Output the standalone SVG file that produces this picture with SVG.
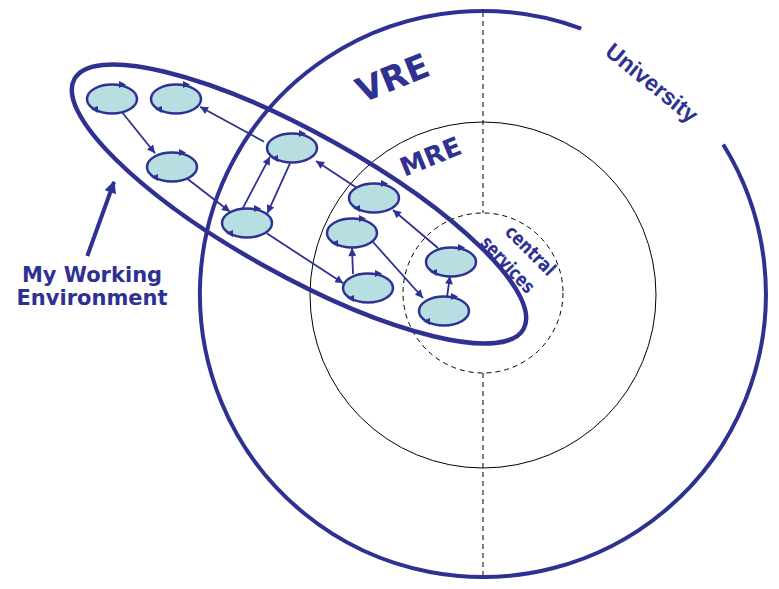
<svg xmlns="http://www.w3.org/2000/svg" xmlns:xlink="http://www.w3.org/1999/xlink" width="779" height="589" viewBox="0 0 779 589">
<style>
.blue{stroke:#2e3192;fill:none}
.thin{stroke:#000;fill:none;stroke-width:1}
.dash{stroke:#000;fill:none;stroke-width:1;stroke-dasharray:5 4}
.conn{stroke:#2e3192;stroke-width:1.8;fill:none;marker-end:url(#ah)}
.lbl{fill:#2e3192;font-family:"DejaVu Sans",Verdana,sans-serif;font-weight:bold;text-anchor:middle}
.nodeE{fill:#b7dfe2;stroke:#2e3192;stroke-width:2.5}
.tip{fill:#2e3192}
</style>
<defs>
<marker id="ah" viewBox="0 0 10 10" refX="10" refY="5" markerWidth="10" markerHeight="8" markerUnits="userSpaceOnUse" orient="auto">
<path d="M0,0 L10,5 L0,10 z" fill="#2e3192"/>
</marker>
<marker id="bigah" viewBox="0 0 10 10" refX="9" refY="5" markerWidth="14" markerHeight="12" markerUnits="userSpaceOnUse" orient="auto">
<path d="M0,0 L10,5 L0,10 z" fill="#2e3192"/>
</marker>
<g id="node">
<ellipse class="nodeE" cx="0" cy="0" rx="25" ry="14.5"/>
<polygon class="tip" points="7,-18 14,-14.5 7,-11"/>
<polygon class="tip" points="-14,7 -21,10 -14,14"/>
</g>
</defs>
<rect width="779" height="589" fill="#fff"/>
<g id="circles">
<line class="dash" x1="483" y1="12" x2="483" y2="213"/>
<line class="dash" x1="483" y1="373" x2="483" y2="577"/>
<path class="blue" stroke-width="4" d="M723.2,144.5 A283,283 0 1 1 581.2,28.6"/>
<circle class="thin" cx="483" cy="295" r="173"/>
<circle class="dash" cx="483" cy="293" r="80"/>
</g>
<g id="mwe">
<ellipse class="blue" stroke-width="4.5" cx="299" cy="204" rx="257" ry="71" transform="rotate(29.1 299 204)"/>
</g>
<g id="connectors">
<path class="conn" d="M121.7,111.7 L155,153.3"/>
<path class="conn" d="M264,141.7 L200,106.7"/>
<path class="conn" d="M186.7,178.3 L230,211.7"/>
<path class="conn" d="M242.7,208.3 L270,156.7"/>
<path class="conn" d="M290,163.3 L267.3,213.3"/>
<path class="conn" d="M266.7,233.3 L343.3,283.3"/>
<path class="conn" d="M357,188 L316,161"/>
<path class="conn" d="M353,274 L352,248"/>
<path class="conn" d="M373,242 L423,298"/>
<path class="conn" d="M438,248 L393,210"/>
<path class="conn" d="M447,297 L450,276"/>
<path stroke="#2e3192" stroke-width="4" fill="none" marker-end="url(#bigah)" d="M87.3,256 L114,182"/>
</g>
<g id="n1"><use xlink:href="#node" x="112" y="99"/></g>
<g id="n2"><use xlink:href="#node" x="176" y="99"/></g>
<g id="n3"><use xlink:href="#node" x="172" y="167"/></g>
<g id="n4"><use xlink:href="#node" x="292" y="148"/></g>
<g id="n5"><use xlink:href="#node" x="247" y="223"/></g>
<g id="n6"><use xlink:href="#node" x="374" y="198"/></g>
<g id="n7"><use xlink:href="#node" x="352" y="233"/></g>
<g id="n8"><use xlink:href="#node" x="368" y="288"/></g>
<g id="n9"><use xlink:href="#node" x="451" y="262"/></g>
<g id="n10"><use xlink:href="#node" x="444" y="311"/></g>
<g id="labels">
<text class="lbl" font-size="34" transform="translate(397,89) rotate(-22)">VRE</text>
<text class="lbl" font-size="26" transform="translate(434,165) rotate(-22)">MRE</text>
<text class="lbl" style="font-family:'Liberation Sans',Arial,sans-serif" font-size="23" transform="translate(647,89) rotate(39)">University</text>
<text class="lbl" font-size="19" textLength="62" lengthAdjust="spacingAndGlyphs" transform="translate(526,255) rotate(45)">central</text>
<text class="lbl" font-size="19" textLength="70" lengthAdjust="spacingAndGlyphs" transform="translate(503,269) rotate(47)">services</text>
<text class="lbl" font-size="21" x="92" y="282">My Working</text>
<text class="lbl" font-size="21" x="92" y="305">Environment</text>
</g>
</svg>
